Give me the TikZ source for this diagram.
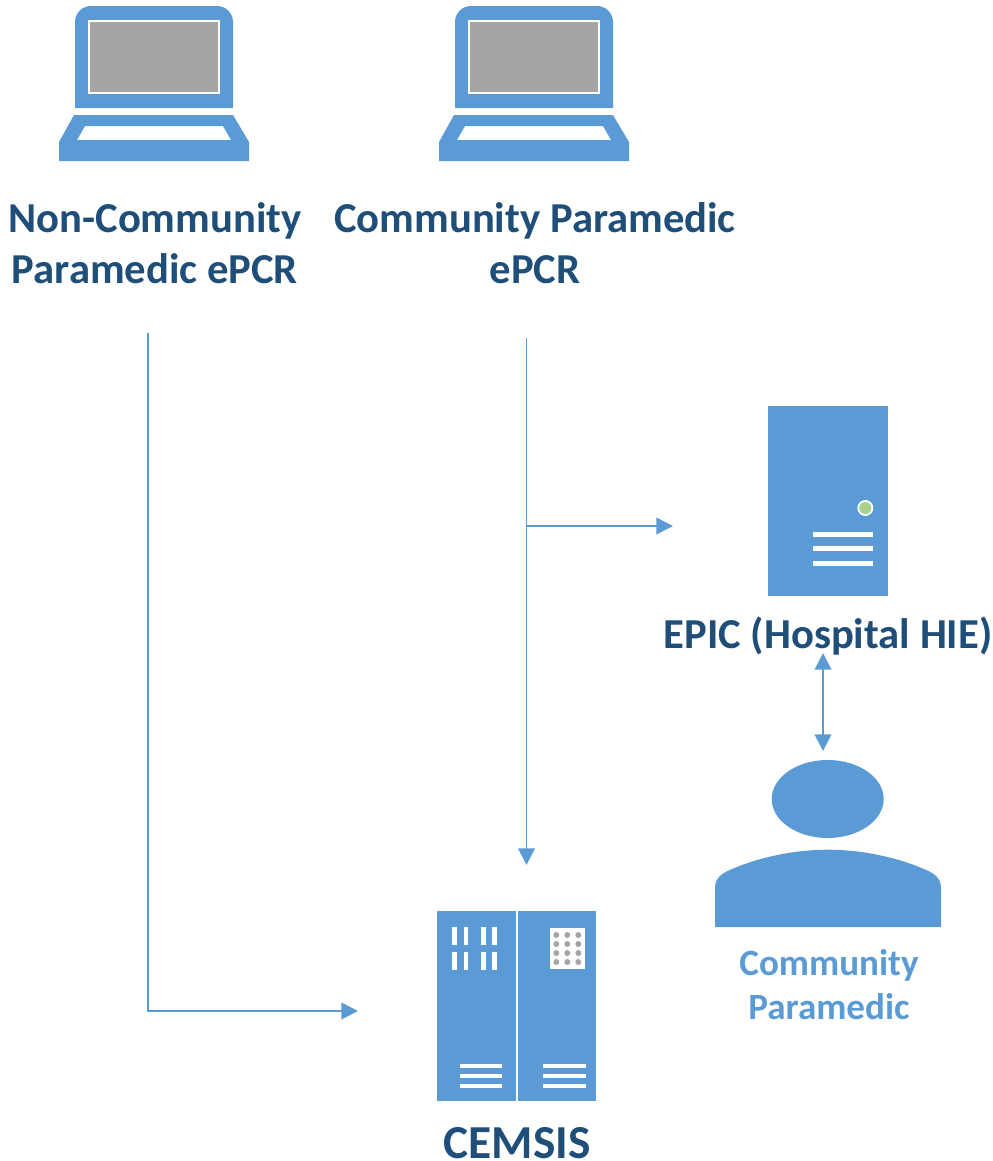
\documentclass[tikz,border=0pt]{standalone}
\usepackage{fontspec}
\setmainfont{Carlito}
\usetikzlibrary{arrows.meta}
\definecolor{iconblue}{HTML}{5B9BD5}
\definecolor{darkblue}{HTML}{1F4E79}
\definecolor{screengray}{HTML}{A5A5A5}
\definecolor{ledgreen}{HTML}{A9D18E}
\tikzset{
  x=0.75pt,y=-0.75pt,
  bigtext/.style={font=\fontsize{32}{38.5}\selectfont\bfseries,text=darkblue,align=center,inner sep=0pt},
  hugetext/.style={font=\fontsize{35.5}{40}\selectfont\bfseries,text=darkblue,inner sep=0pt},
  smalltext/.style={font=\fontsize{27.8}{33}\selectfont\bfseries,text=iconblue,align=center,inner sep=0pt},
  link/.style={draw=iconblue,line width=1.2pt,-{Triangle[length=12.5pt,width=12.5pt]}},
  biglink/.style={draw=iconblue,line width=1.2pt,{Triangle[length=12.5pt,width=12.5pt]}-{Triangle[length=12.5pt,width=12.5pt]}},
  laptop/.pic={
    \fill[iconblue] (75,108) -- (75,22) arc[start angle=180,end angle=90,radius=16*0.75pt] -- (217,6) arc[start angle=90,end angle=0,radius=16*0.75pt] -- (233,108) -- cycle;
    \fill[white] (88,20) rectangle (220,94);
    \fill[screengray] (90,22) rectangle (218,92);
    \fill[iconblue,even odd rule] (74,115) -- (233,115) -- (249,142) -- (249,161) -- (59,161) -- (59,142) -- cycle
      (85,126) -- (223,126) -- (231,140) -- (77,140) -- cycle;
  }
}
\begin{document}
\begin{tikzpicture}
\useasboundingbox (0,0) rectangle (993,1161);
% laptops
\pic at (0,0) {laptop};
\pic at (380,0) {laptop};
% labels
\node[bigtext] (noncp) at (155,243) {Non-Community\\Paramedic ePCR};
\node[bigtext] (cp) at (535,243) {Community Paramedic\\ePCR};
\node[bigtext] (epic) at (828,636) {EPIC (Hospital HIE)};
\node[hugetext] (cemsis) at (517,1143.5) {CEMSIS};
\node[smalltext] (person) at (829,985) {Community\\Paramedic};
% EPIC server
\fill[iconblue] (767.5,406) rectangle (888,596);
\fill[white] (865.3,508) circle[radius=8];
\fill[ledgreen] (865.3,508) circle[radius=6];
\foreach \y in {534.5,548.8,563.3}{\fill[white] (813,\y-2.5) rectangle (873,\y+2.5);}
% CEMSIS rack
\fill[iconblue] (437,911) rectangle (596,1101);
\fill[white] (516,911) rectangle (518,1101);
\foreach \x in {452,463.5,481,492.3}{
  \foreach \y in {927.3,952.3}{\fill[white] (\x,\y) rectangle (\x+4.8,\y+17.4);}
}
\fill[white] (549.7,928.3) rectangle (585.3,969.3);
\foreach \x in {556.3,567.3,578.3}{
  \foreach \y in {935,944,953,962}{\fill[screengray] (\x,\y) circle[radius=3];}
}
\foreach \y in {1065.7,1076,1086}{
  \fill[white] (460,\y-1.8) rectangle (502,\y+1.8);
  \fill[white] (543.3,\y-1.8) rectangle (585.7,\y+1.8);
}
% person
\fill[iconblue] (827.7,799) ellipse[x radius=56,y radius=39];
\fill[iconblue] (715,927) -- (715,888) .. controls (715,878) and (722,873) .. (732,869) .. controls (760,857) and (795,849.7) .. (828,849.7) .. controls (861,849.7) and (896,857) .. (924,869) .. controls (934,873) and (941,878) .. (941,888) -- (941,927) -- cycle;
% connector ends
\coordinate (a0) at (148,333);
\coordinate (a1) at (148,1011);
\coordinate (a2) at (358,1011);
\coordinate (b0) at (526.5,338);
\coordinate (b1) at (526.5,865);
\coordinate (c0) at (526.5,526);
\coordinate (c1) at (673,526);
\coordinate (d0) at (823,653);
\coordinate (d1) at (823,751);
\path[link] (a0) -- (a1) -- (a2);
\path[link] (b0) -- (b1);
\path[link] (c0) -- (c1);
\path[biglink] (d0) -- (d1);
\end{tikzpicture}
\end{document}
